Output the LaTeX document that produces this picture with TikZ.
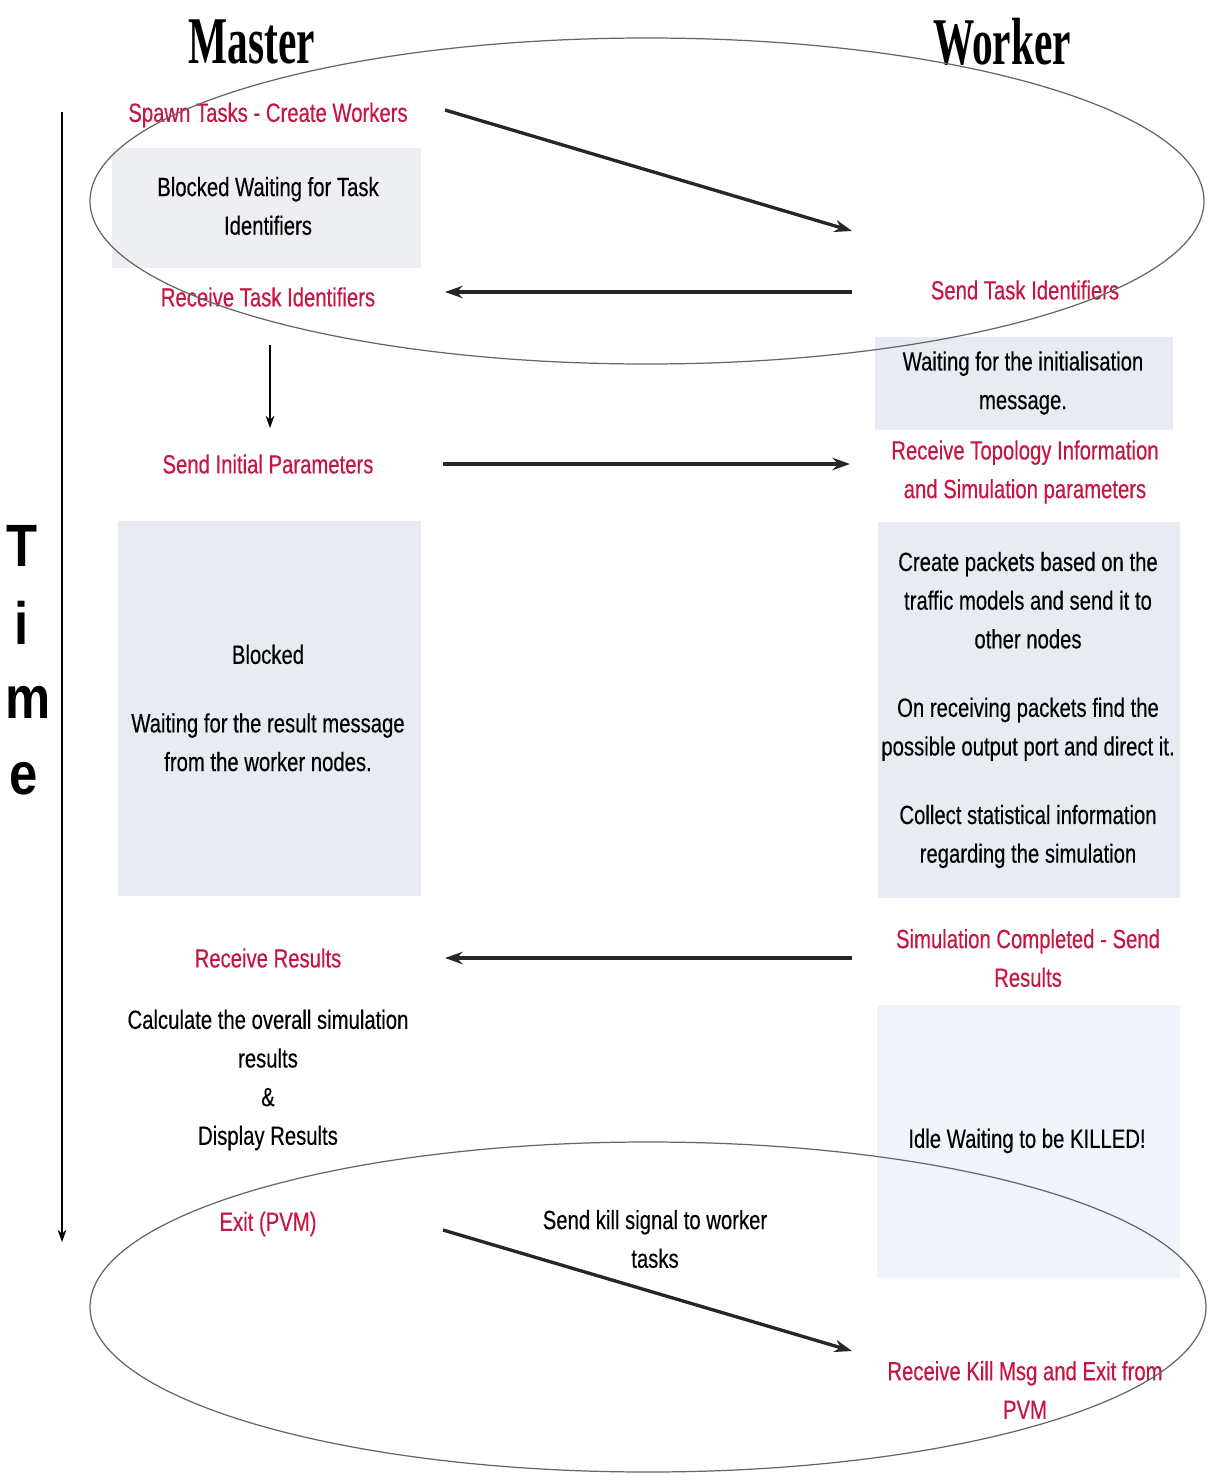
\documentclass[tikz,border=0pt]{standalone}
\usepackage{fontspec}
\setmainfont[FakeStretch=0.77,FakeBold=0.3]{Liberation Sans}
\newfontfamily\titlefont[FakeStretch=0.62]{Liberation Serif}
\newfontfamily\axisfont[FakeStretch=0.85]{Liberation Sans}
\usetikzlibrary{arrows.meta}
\definecolor{evred}{RGB}{200,20,64}
\definecolor{boxgray}{RGB}{238,239,243}
\definecolor{boxblue}{RGB}{232,235,242}
\definecolor{boxpale}{RGB}{240,244,250}
\begin{document}
\begin{tikzpicture}[x=0.02cm,y=-0.02cm,
  txt/.style={align=center,inner sep=0pt,font=\fontsize{15}{22}\selectfont},
  evt/.style={txt,text=evred},
  msg/.style={-{Stealth[length=10pt,width=7pt]},line width=1.9pt,black!85},
  thin arrow/.style={-{Stealth[length=7pt,width=5pt]},line width=0.6pt},
  phase/.style={draw=black!60,line width=0.7pt}]
\useasboundingbox (0,0) rectangle (1208,1484);
\fill[white] (0,0) rectangle (1208,1484);

% shaded state boxes
\fill[boxgray] (112,148) rectangle (421,268);
\fill[boxblue] (118,521) rectangle (421,896);
\fill[boxblue] (875,337) rectangle (1173,430);
\fill[boxblue] (878,522) rectangle (1180,898);
\fill[boxpale] (877,1005) rectangle (1180,1278);

% column headings
\node (master) at (252,42) {\titlefont\bfseries\fontsize{38}{40}\selectfont Master};
\node (worker) at (1002,42) {\titlefont\bfseries\fontsize{38}{40}\selectfont Worker};

% time axis
\node (tT) at (22,546) {\axisfont\bfseries\fontsize{34}{36}\selectfont T};
\node (ti) at (22,623) {\axisfont\bfseries\fontsize{34}{36}\selectfont i};
\node (tm) at (28,702) {\axisfont\bfseries\fontsize{34}{36}\selectfont m};
\node (te) at (24,779) {\axisfont\bfseries\fontsize{34}{36}\selectfont e};
\coordinate (axistop) at (62,112);
\coordinate (axisbot) at (62,1242);
\draw[thin arrow] (axistop) -- (axisbot);

% master side
\node[evt] (spawn) at (268,115) {Spawn Tasks - Create Workers};
\node[txt] (blk1) at (268,206) {Blocked Waiting for Task\\Identifiers};
\node[evt] (rti) at (268,297) {Receive Task Identifiers};
\node[evt] (sip) at (268,464) {Send Initial Parameters};
\node[txt] (blk2) at (268,708) {Blocked\\[17pt]Waiting for the result message\\from the worker nodes.};
\node[evt] (rres) at (268,958) {Receive Results};
\node[txt] (calc) at (268,1080) {Calculate the overall simulation\\results\\\&\\Display Results};
\node[evt] (exit) at (268,1224) {Exit (PVM)};

% worker side
\node[evt] (sti) at (1025,290) {Send Task Identifiers};
\node[txt] (winit) at (1023,383) {Waiting for the initialisation\\message.};
\node[evt] (rtop) at (1025,472) {Receive Topology Information\\and Simulation parameters};
\node[txt] (work) at (1028,710) {Create packets based on the\\traffic models and send it to\\other nodes\\[17pt]On receiving packets find the\\possible output port and direct it.\\[17pt]Collect statistical information\\regarding the simulation};
\node[evt] (scs) at (1028,958) {Simulation Completed - Send\\Results};
\node[txt] (idle) at (1027,1141) {Idle Waiting to be KILLED!};
\node[evt] (rkill) at (1025,1390) {Receive Kill Msg and Exit from\\PVM};
\node[txt] (killlbl) at (655,1239) {Send kill signal to worker\\tasks};

% message end points
\coordinate (m1a) at (445,110);  \coordinate (m1b) at (852,231);
\coordinate (m2a) at (852,292);  \coordinate (m2b) at (445,292);
\coordinate (m3a) at (443,464);  \coordinate (m3b) at (850,464);
\coordinate (m4a) at (852,958);  \coordinate (m4b) at (445,958);
\coordinate (m5a) at (443,1230); \coordinate (m5b) at (852,1351);
\coordinate (d1a) at (270,345);  \coordinate (d1b) at (270,428);

\draw[msg] (m1a) -- (m1b);
\draw[msg] (m2a) -- (m2b);
\draw[msg] (m3a) -- (m3b);
\draw[msg] (m4a) -- (m4b);
\draw[msg] (m5a) -- (m5b);
\draw[thin arrow] (d1a) -- (d1b);

% setup and shutdown phases
\draw[phase] (647,201) ellipse (557 and 163);
\draw[phase] (648,1307) ellipse (558 and 165);
\end{tikzpicture}
\end{document}
